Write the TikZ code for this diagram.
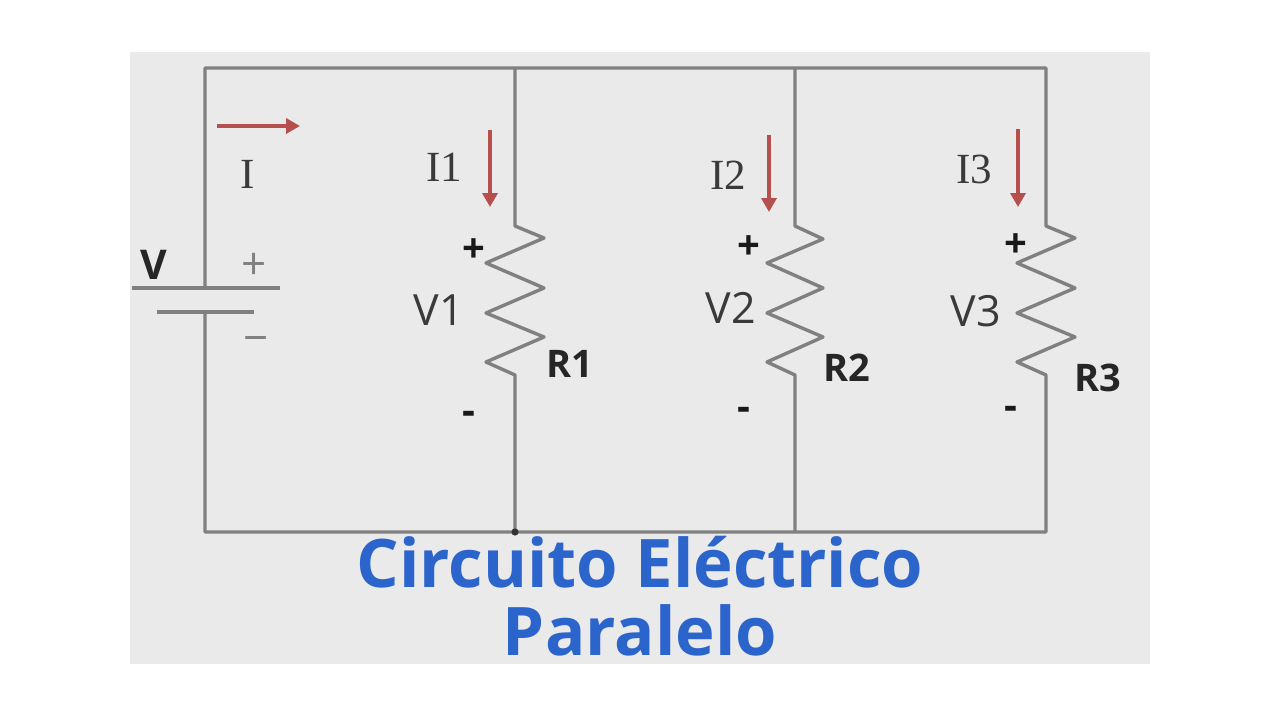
\documentclass[tikz,border=0pt]{standalone}
\usepackage{fontspec}
\setmainfont{Open Sans}
\newfontfamily\serifpart{Liberation Serif}
\usetikzlibrary{arrows.meta}
\definecolor{panel}{HTML}{EAEAEA}
\definecolor{wirecol}{HTML}{808080}
\definecolor{redarrow}{HTML}{B5504F}
\definecolor{titleblue}{HTML}{2B65CC}
\definecolor{inktext}{HTML}{3A3A3A}
\tikzset{
  wire/.style={draw=wirecol,line width=3.4pt,line join=round},
  plate/.style={draw=wirecol,line width=3.6pt},
  current/.style={draw=redarrow,line width=3.6pt,-{Triangle[length=14pt,width=15pt]}},
  serifl/.style={inner sep=0pt,text=inktext,font=\serifpart\fontsize{43}{43}\selectfont},
  voltl/.style={inner sep=0pt,text=inktext,font=\fontsize{43}{43}\selectfont},
  resl/.style={inner sep=0pt,text=black!85,font=\bfseries\fontsize{38}{38}\selectfont},
  polel/.style={inner sep=0pt,text=black!90,font=\bfseries\fontsize{40}{40}\selectfont},
  greyl/.style={inner sep=0pt,text=gray,font=\fontsize{44}{44}\selectfont},
  titlel/.style={inner sep=0pt,text=titleblue,font=\bfseries\fontsize{67}{68}\selectfont},
}
\begin{document}
\begin{tikzpicture}[x=1pt,y=-1pt]
\useasboundingbox (0,0) rectangle (1280,720);
\fill[panel] (130,52) rectangle (1150,664);

% named junctions
\coordinate (tl) at (205,68);
\coordinate (tr) at (1046,68);
\coordinate (bl) at (205,532);
\coordinate (br) at (1046,532);
\coordinate (t1) at (515,68);
\coordinate (t2) at (795,68);
\coordinate (b1) at (515,532);
\coordinate (b2) at (795,532);
\coordinate (bp) at (205,288);
\coordinate (bn) at (205,312);
\coordinate (pl) at (132,288);
\coordinate (pr) at (280,288);
\coordinate (nl) at (157,312);
\coordinate (nr) at (254,312);

% outer loop with battery gap
\draw[wire] (bp) -- (tl) -- (tr) -- (1046,226) -- ++(29,12) -- ++(-58,25) -- ++(58,25) -- ++(-58,25) -- ++(58,24) -- ++(-58,25) -- (1046,375) -- (br) -- (bl) -- (bn);
% battery plates
\draw[plate] (pl) -- (pr);
\draw[plate] (nl) -- (nr);
% branch R1
\draw[wire] (t1) -- (515,226) -- ++(29,12) -- ++(-58,25) -- ++(58,25) -- ++(-58,25) -- ++(58,24) -- ++(-58,25) -- (515,375) -- (b1);
% branch R2
\draw[wire] (t2) -- (795,226) -- ++(28,13) -- ++(-56,24) -- ++(56,25) -- ++(-56,25) -- ++(56,24) -- ++(-56,25) -- (795,375) -- (b2);
\fill[black!80] (b1) circle (3.6);

% current arrows
\coordinate (a0s) at (217,126); \coordinate (a0e) at (300,126);
\coordinate (a1s) at (490,130); \coordinate (a1e) at (490,207);
\coordinate (a2s) at (769,135); \coordinate (a2e) at (769,212);
\coordinate (a3s) at (1018,129); \coordinate (a3e) at (1018,207);
\draw[current] (a0s) -- (a0e);
\draw[current] (a1s) -- (a1e);
\draw[current] (a2s) -- (a2e);
\draw[current] (a3s) -- (a3e);

% labels
\node[serifl] (lI) at (248,174) {I};
\node[serifl] (lI1) at (444,167) {I1};
\node[serifl] (lI2) at (728,175) {I2};
\node[serifl] (lI3) at (974,169) {I3};
\node[resl,font=\bfseries\fontsize{41}{41}\selectfont] (lV) at (154,265) {V};
\node[greyl] (lbp) at (254,266) {+};
\node[greyl] (lbn) at (256,345) {−};
\node[voltl] (lV1) at (439,310) {V1};
\node[voltl] (lV2) at (731,308) {V2};
\node[voltl] (lV3) at (976,311) {V3};
\node[resl] (lR1) at (570,364) {R1};
\node[resl] (lR2) at (847,368) {R2};
\node[resl] (lR3) at (1098,378) {R3};
\node[polel] (p1) at (474,251) {+};
\node[polel] (p2) at (749,248) {+};
\node[polel] (p3) at (1016,246) {+};
\node[polel] (m1) at (469,418) {-};
\node[polel] (m2) at (744,414) {-};
\node[polel] (m3) at (1011,413) {-};

% title
\node[titlel,align=center] (title) at (640,596) {Circuito Eléctrico\\Paralelo};
\end{tikzpicture}
\end{document}
